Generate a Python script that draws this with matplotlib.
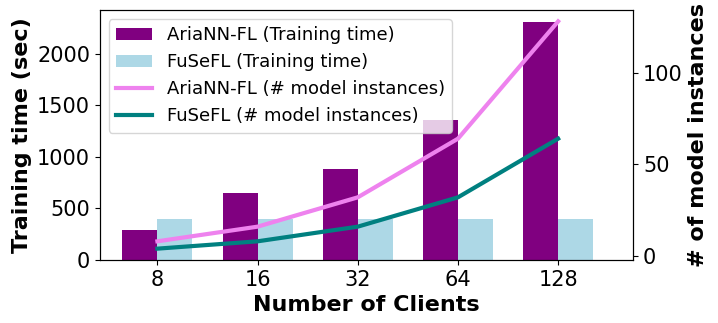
import numpy as np
import matplotlib
matplotlib.use('Agg')
import matplotlib.pyplot as plt

clients = ['8', '16', '32', '64', '128']
ariann_time = [290, 650, 880, 1360, 2310]
fusefl_time = [400, 400, 400, 400, 400]
ariann_models = [8, 16, 32, 64, 128]
fusefl_models = [4, 8, 16, 32, 64]

x = np.arange(len(clients))
width = 0.35

fig, ax = plt.subplots(figsize=(7.18, 3.23), dpi=100)
fig.subplots_adjust(left=0.139, right=0.882, bottom=0.195, top=0.969)

b1 = ax.bar(x - width / 2, ariann_time, width, color='purple', label='AriaNN-FL (Training time)')
b2 = ax.bar(x + width / 2, fusefl_time, width, color='lightblue', label='FuSeFL (Training time)')
ax.set_xlabel('Number of Clients', fontsize=16, fontweight='bold')
ax.set_ylabel('Training time (sec)', fontsize=16, fontweight='bold')
ax.set_xticks(x)
ax.set_xticklabels(clients)
ax.tick_params(labelsize=15)
ax.set_xlim(-0.575, 4.75)

ax2 = ax.twinx()
l1, = ax2.plot(x, ariann_models, color='violet', lw=3, label='AriaNN-FL (# model instances)')
l2, = ax2.plot(x, fusefl_models, color='teal', lw=3, label='FuSeFL (# model instances)')
ax2.set_ylabel('# of model instances', fontsize=16, fontweight='bold')
ax2.set_yticks([0, 50, 100])
ax2.tick_params(labelsize=15)

handles = [b1, b2, l1, l2]
ax.legend(handles, [h.get_label() for h in handles], loc='upper left', fontsize=13)

plt.savefig('out.png', dpi=100)
